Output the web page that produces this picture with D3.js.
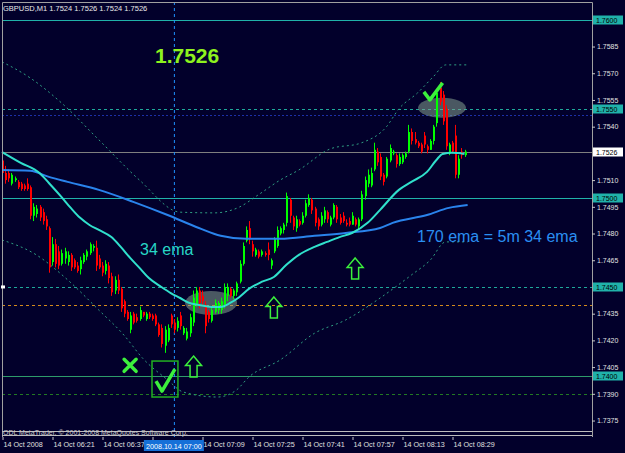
<!DOCTYPE html>
<html>
<head>
<meta charset="utf-8">
<script src="https://cdn.jsdelivr.net/npm/d3@7/dist/d3.min.js"></script>
<style>
  body { margin: 0; background: #02002b; overflow: hidden; }
  svg { display: block; }
  text { font-family: "Liberation Sans", Arial, sans-serif; }
</style>
</head>
<body>
<script>
const width = 625, height = 453;

// GBPUSD M1, 14 Oct 2008 from 06:05, one bar a minute
// prices are in pips above 1.7400
const base = 1.74;
const opens  = [121,114,114,108,110,109,108,107,108,106, 90, 91, 95, 92, 88, 83, 64, 74, 70, 63,
                 66, 64, 68, 65, 62, 60, 64, 67, 69, 72, 72, 66, 62, 59, 62, 56, 48, 54, 49, 42,
                 36, 26, 35, 33, 32, 36, 32, 35, 34, 34, 29, 27, 17, 20, 34, 30, 27, 34, 24, 21,
                 24, 30, 40, 48, 45, 40, 36, 31, 36, 37, 37, 40, 45, 49, 45, 47, 53, 63, 76, 83,
                 74, 68, 70, 68, 69, 71, 62, 70, 73, 80, 82, 86, 99, 89, 83, 87, 86, 90, 96, 99,
                 94, 88, 85, 88, 92, 85, 89, 95, 89, 90, 86, 87, 85, 88, 84, 88,101,108,107,116,
                126,123,113,112,121,125,124,119,120,123,126,137,133,131,130,135,129,127,132,142,
                162,158,150,125,131,135,113,126,124];
const highs  = [123,118,116,114,112,110,109,108,111,107, 97, 96, 96, 94, 90, 84, 78, 77, 73, 71,
                 72, 70, 69, 66, 64, 67, 69, 71, 75, 74, 76, 68, 64, 65, 64, 58, 56, 57, 50, 43,
                 37, 36, 36, 35, 39, 36, 36, 36, 35, 35, 30, 29, 28, 29, 35, 32, 33, 36, 28, 27,
                 35, 48, 50, 50, 48, 42, 37, 39, 43, 42, 44, 52, 52, 50, 49, 53, 65, 75, 84, 87,
                 76, 72, 71, 71, 70, 75, 66, 78, 84, 84, 86,103,100, 90, 90, 88, 92, 99,102,100,
                 95, 89, 92, 95, 93, 90, 97, 96, 91, 92, 88, 89, 92, 89, 89,104,112,116,117,131,
                128,125,114,123,130,127,125,125,125,126,141,139,137,132,131,137,130,133,141,161,
                165,160,152,131,132,141,124,128,127];
const lows   = [113,108,109,107,109,105,104,104,104, 88, 87, 89, 87, 85, 82, 58, 62, 61, 60, 62,
                 63, 62, 59, 60, 58, 57, 63, 65, 68, 70, 59, 60, 56, 57, 52, 45, 46, 46, 36, 33,
                 31, 24, 29, 30, 31, 33, 31, 32, 31, 28, 22, 16, 13, 19, 27, 24, 25, 26, 23, 20,
                 22, 28, 39, 38, 40, 24, 30, 30, 35, 35, 35, 38, 42, 44, 43, 45, 52, 62, 75, 74,
                 67, 67, 66, 67, 67, 65, 60, 69, 72, 79, 80, 84, 86, 82, 81, 84, 85, 89, 95, 91,
                 84, 82, 84, 86, 86, 84, 88, 86, 85, 86, 84, 84, 85, 84, 82, 87, 99,106,106,115,
                118,110,107,111,120,124,117,118,119,122,125,130,130,128,125,128,125,127,130,140,
                152,141,127,124,125,111,111,122,123];
const closes = [114,110,111,113,111,106,105,105,105, 90, 95, 94, 89, 87, 84, 61, 74, 63, 62, 69,
                 70, 68, 61, 61, 59, 65, 68, 70, 74, 73, 62, 61, 58, 63, 55, 47, 54, 48, 38, 35,
                 32, 34, 30, 31, 37, 34, 35, 33, 32, 29, 23, 18, 26, 27, 29, 26, 31, 28, 27, 25,
                 33, 44, 48, 41, 42, 28, 32, 37, 41, 41, 42, 50, 50, 45, 48, 52, 63, 73, 82, 77,
                 70, 71, 67, 70, 68, 68, 65, 77, 82, 83, 85,101, 90, 84, 88, 85, 90, 97,100, 93,
                 86, 84, 90, 93, 88, 89, 96, 88, 86, 87, 85, 85, 90, 85, 88,102,110,113,114,127,
                120,112,109,122,128,126,119,123,124,125,137,132,131,129,126,130,127,132,140,159,
                154,143,129,130,126,113,122,124,126];

// indicator lines: bar index and pips above 1.7400
const ema34Bars  = [0, 6, 12, 15, 19, 22, 25, 28, 31, 35, 38, 41, 44, 47, 51, 54, 57, 60, 63, 67,
                    70, 73, 76, 79, 83, 87, 91, 95, 100, 104, 108, 112, 117, 121, 127, 131, 136, 139, 141, 144, 148];
const ema34Pips  = [125.8, 119.7, 114, 108.4, 100.6, 94.4, 88.8, 84.8, 82, 78, 72.5, 66.3, 60.7, 55, 50, 46.6,
                    43.8, 41, 39.9, 38.8, 38.8, 41, 44.4, 48.9, 52.8, 55.6, 62.4, 68, 72.5, 75.3, 78, 80.3,
                    86, 93.3, 104.5, 109, 114.6, 121.3, 124.7, 125.3, 124.7];
const ema170Bars = [0, 9, 15, 21, 31, 42, 53, 63, 70, 78, 89, 100, 110, 121, 125, 136, 143, 149];
const ema170Pips = [115.7, 115.2, 111.8, 109, 104.5, 97.8, 90.4, 83.1, 78.7, 77, 77, 78.7, 80.3, 83.1, 86, 90.4, 94.4, 96];
const upperBars  = [0, 9, 19, 31, 44, 57, 68, 76, 82, 89, 95, 105, 115, 123, 127, 133, 138, 142, 149];
const upperPips  = [176.4, 167.4, 153.4, 132.6, 110, 92, 91.6, 94.9, 101.7, 110, 115.7, 127.5, 130.9, 139.9, 150, 159, 168, 174.7, 174.7];
const lowerBars  = [0, 11, 21, 31, 39, 45, 53, 58, 69, 75, 79, 89, 100, 110, 121, 131, 137, 142, 149];
const lowerPips  = [76.4, 68, 54, 37, 23, 10, -2.2, -9, -11.8, -7.9, -0.6, 9, 24, 31.5, 43.8, 56.7, 65, 75.3, 75.3];

// horizontal levels
const solidLevels  = [1.7600, 1.7500];
const dashedLevels = [1.7550, 1.7450];
const boxLevels    = [1.7600, 1.7550, 1.7500, 1.7450, 1.7400];
const orangeLevel  = 1.7440;
const greenLevel   = 1.7400;
const dkGreenLevel = 1.7390;
const blueDotLevel = 1.75466;
const bid = 1.7526;

const priceTicks = [1.7585, 1.7570, 1.7555, 1.7540, 1.7510, 1.7495, 1.7480, 1.7465, 1.7435, 1.7420, 1.7405, 1.7390, 1.7375];
const timeTickBars = [0, 16, 32, 48, 64, 80, 96, 112, 128, 144];
// the 06:53 label sits under the cursor box, so it stays blank
const timeLabels = ["14 Oct 2008", "14 Oct 06:21", "14 Oct 06:37", "", "14 Oct 07:09",
                    "14 Oct 07:25", "14 Oct 07:41", "14 Oct 07:57", "14 Oct 08:13", "14 Oct 08:29"];
const cursorBar = 55; // 07:00
const cursorLabel = "2008.10.14 07:00";
const header = "GBPUSD,M1  1.7524 1.7526 1.7524 1.7526";

// marks drawn on the chart by hand: bar index and pips
const upArrows = [[61.3, 11.2, -0.6], [87, 44.4, 32.6], [113, 66.3, 54.5]];
const ellipses = [[66.9, 41], [140.8, 150.6]];

const t0 = new Date(2008, 9, 14, 6, 5);
const barTime = i => new Date(+t0 + i * 60000);
const price = p => base + p / 10000;

const x = d3.scaleTime().domain([t0, barTime(16)]).range([2, 52]);
const y = d3.scaleLinear().domain([1.7368, 1.7610]).range([433, 2]);
const bx = i => x(barTime(i));

const svg = d3.select('body').append('svg')
  .attr('width', width)
  .attr('height', height);

svg.append('rect').attr('width', width).attr('height', height).attr('fill', '#02002b');

const plot = svg.append('g');

// levels
const hline = (p, color, dash, w) => plot.append('line')
  .attr('x1', 2).attr('x2', 592)
  .attr('y1', Math.round(y(p)) + 0.5).attr('y2', Math.round(y(p)) + 0.5)
  .attr('stroke', color).attr('stroke-width', w || 1)
  .attr('stroke-dasharray', dash || null);

solidLevels.forEach(p => hline(p, '#20b2aa'));
dashedLevels.forEach(p => hline(p, '#1fa89a', '3,3'));
hline(blueDotLevel, '#1c2fa8', '2,2');
hline(bid, '#7f7f7f');
hline(orangeLevel, '#d48a1c', '3,3');
hline(greenLevel, '#2e9b6a');
hline(dkGreenLevel, '#237a23', '3,3');

// cursor line
plot.append('line')
  .attr('x1', bx(cursorBar) + 0.5).attr('x2', bx(cursorBar) + 0.5)
  .attr('y1', 2).attr('y2', 437)
  .attr('stroke', '#1e90ff').attr('stroke-dasharray', '3,3');

// highlight ellipses
plot.selectAll('.hl').data(ellipses).enter().append('ellipse')
  .attr('cx', d => bx(d[0])).attr('cy', d => y(price(d[1])))
  .attr('rx', (d, i) => i ? 24 : 26).attr('ry', (d, i) => i ? 10 : 12)
  .attr('fill', '#86a090').attr('opacity', 0.55);

// bands
const bandLine = d3.line().x(d => bx(d[0])).y(d => y(price(d[1]))).curve(d3.curveMonotoneX);
[[upperBars, upperPips], [lowerBars, lowerPips]].forEach(([b, p]) => {
  plot.append('path')
    .attr('d', bandLine(d3.zip(b, p)))
    .attr('fill', 'none').attr('stroke', '#2f9e82').attr('stroke-dasharray', '2,3');
});

// candles
const bars = d3.range(opens.length);
const up = i => closes[i] >= opens[i];
plot.selectAll('.wick').data(bars).enter().append('line')
  .attr('x1', i => Math.round(bx(i)) + 0.5).attr('x2', i => Math.round(bx(i)) + 0.5)
  .attr('y1', i => y(price(highs[i]))).attr('y2', i => y(price(lows[i])))
  .attr('stroke', i => up(i) ? '#00ff00' : '#ff0000');
plot.selectAll('.body').data(bars).enter().append('rect')
  .attr('x', i => Math.round(bx(i)))
  .attr('width', 2)
  .attr('y', i => y(price(Math.max(opens[i], closes[i]))))
  .attr('height', i => Math.max(1, y(price(Math.min(opens[i], closes[i]))) - y(price(Math.max(opens[i], closes[i])))))
  .attr('fill', i => up(i) ? '#00ff00' : '#ff0000');

// moving averages
plot.append('path')
  .attr('d', bandLine(d3.zip(ema170Bars, ema170Pips)))
  .attr('fill', 'none').attr('stroke', '#2a83ec').attr('stroke-width', 2);
plot.append('path')
  .attr('d', bandLine(d3.zip(ema34Bars, ema34Pips)))
  .attr('fill', 'none').attr('stroke', '#30e0cc').attr('stroke-width', 2);

// hand drawn marks
const green = '#3cf03c';
upArrows.forEach(([b, top, bot]) => {
  const cx = bx(b), yt = y(price(top)), yb = y(price(bot));
  const hh = (yb - yt) * 0.45;
  plot.append('path')
    .attr('d', `M${cx},${yt} L${cx + 8},${yt + hh} L${cx + 3.5},${yt + hh} L${cx + 3.5},${yb} L${cx - 3.5},${yb} L${cx - 3.5},${yt + hh} L${cx - 8},${yt + hh} Z`)
    .attr('fill', 'none').attr('stroke', green).attr('stroke-width', 1.5);
});

const xMark = [bx(41), y(price(6))];
plot.append('path')
  .attr('d', `M${xMark[0] - 6},${xMark[1] - 6} L${xMark[0] + 6},${xMark[1] + 6} M${xMark[0] + 6},${xMark[1] - 6} L${xMark[0] - 6},${xMark[1] + 6}`)
  .attr('stroke', green).attr('stroke-width', 3.5).attr('stroke-linecap', 'round');

const boxL = bx(48), boxR = bx(56.3), boxT = y(price(8.4)), boxB = y(price(-11.8));
plot.append('rect')
  .attr('x', boxL).attr('y', boxT).attr('width', boxR - boxL).attr('height', boxB - boxT)
  .attr('fill', 'none').attr('stroke', '#22b022').attr('stroke-width', 1.5);
plot.append('path')
  .attr('d', `M${boxL + 4},${boxT + 20} L${boxL + 10},${boxT + 30} L${boxR - 3},${boxT + 8}`)
  .attr('fill', 'none').attr('stroke', green).attr('stroke-width', 3.5).attr('stroke-linejoin', 'round');

const ckL = bx(135), ckR = bx(141), ckT = y(price(164.6));
plot.append('path')
  .attr('d', `M${ckL},${ckT + 9} L${ckL + 6},${ckT + 17} L${ckR},${ckT}`)
  .attr('fill', 'none').attr('stroke', green).attr('stroke-width', 3.5).attr('stroke-linejoin', 'round');

// notes
svg.append('text').attr('x', 155).attr('y', 63).text('1.7526')
  .attr('fill', '#8ef21e').attr('font-size', 21).attr('font-weight', 'bold');
svg.append('text').attr('x', 140).attr('y', 255).text('34 ema')
  .attr('fill', '#27d6c6').attr('font-size', 16);
svg.append('text').attr('x', 417).attr('y', 242).text('170 ema = 5m 34 ema')
  .attr('fill', '#2a8ff2').attr('font-size', 16);

// frame
const frame = svg.append('g').attr('stroke', '#a0a0a0').attr('fill', 'none');
frame.append('path').attr('d', 'M2.5,437 L2.5,2.5 L592.5,2.5 L592.5,437');
frame.append('path').attr('d', 'M2,431.5 H592 M2,435.5 H592').attr('stroke', '#bdbdbd');
svg.append('rect').attr('x', 1).attr('y', y(1.7450) - 1.5).attr('width', 4).attr('height', 3).attr('fill', '#ffffff');

svg.append('text').attr('x', 3).attr('y', 11).text(header)
  .attr('fill', '#e8e8e8').attr('font-size', 7.5);
svg.append('text').attr('x', 3).attr('y', 435).text('ODL MetaTrader, \u00a9 2001-2008 MetaQuotes Software Corp.')
  .attr('fill', '#c8c8c8').attr('font-size', 7);

// price axis
const yAxis = svg.append('g')
  .attr('transform', 'translate(592,0)')
  .call(d3.axisRight(y).tickValues(priceTicks).tickSize(3).tickFormat(d3.format('.4f')));
yAxis.select('.domain').remove();
yAxis.selectAll('line').attr('stroke', '#c8c8c8');
yAxis.selectAll('text').attr('fill', '#e0e0e0').attr('font-size', 7).attr('x', 5)
  .attr('font-family', '"Liberation Sans", Arial, sans-serif');

const boxes = svg.append('g');
boxLevels.forEach(p => {
  const g = boxes.append('g').attr('transform', `translate(593,${Math.round(y(p))})`);
  g.append('rect').attr('x', 0).attr('y', -4.5).attr('width', 30).attr('height', 9).attr('fill', '#20b2aa');
  g.append('text').attr('x', 3).attr('y', 3).text(d3.format('.4f')(p)).attr('font-size', 7).attr('fill', '#000');
});
const bidBox = boxes.append('g').attr('transform', `translate(593,${Math.round(y(bid))})`);
bidBox.append('rect').attr('x', 0).attr('y', -4.5).attr('width', 30).attr('height', 9).attr('fill', '#ffffff');
bidBox.append('text').attr('x', 3).attr('y', 3).text(d3.format('.4f')(bid)).attr('font-size', 7).attr('fill', '#000');

// time axis
const xAxis = svg.append('g')
  .attr('transform', 'translate(0,437)')
  .call(d3.axisBottom(x).tickValues(timeTickBars.map(barTime)).tickSize(3).tickFormat((d, i) => timeLabels[i]));
xAxis.select('.domain').remove();
xAxis.selectAll('line').attr('stroke', '#c8c8c8').attr('transform', 'translate(0.5,0)');
xAxis.selectAll('text').attr('fill', '#e0e0e0').attr('font-size', 7.2)
  .attr('text-anchor', 'start').attr('x', 1).attr('y', 5).attr('dy', '0.71em')
  .attr('font-family', '"Liberation Sans", Arial, sans-serif');

const cx = bx(cursorBar);
svg.append('rect').attr('x', cx - 30).attr('y', 440).attr('width', 60).attr('height', 11).attr('fill', '#1570d8');
svg.append('text').attr('x', cx).attr('y', 448.5).attr('text-anchor', 'middle').text(cursorLabel)
  .attr('fill', '#ffffff').attr('font-size', 7.2);
</script>
</body>
</html>
